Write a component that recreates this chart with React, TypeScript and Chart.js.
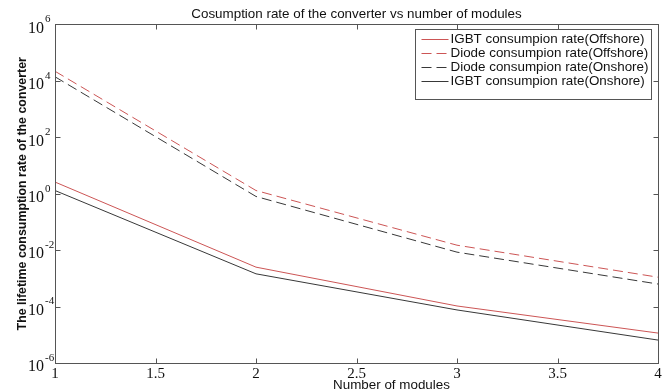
import React, { useEffect, useRef } from 'react';
import { Chart, registerables } from 'chart.js';

Chart.register(...registerables);

const modules = [1, 2, 3, 4];
const igbtOffshore = [2.6, 2.5e-3, 1.05e-4, 1.15e-5];
const diodeOffshore = [2.2e4, 1.3, 0.015, 1.1e-3];
const diodeOnshore = [1.4e4, 0.8, 0.0085, 6.3e-4];
const igbtOnshore = [1.3, 1.45e-3, 7.6e-5, 6.5e-6];

const seriesLabels = [
  'IGBT consumpion rate(Offshore)',
  'Diode consumpion rate(Offshore)',
  'Diode consumpion rate(Onshore)',
  'IGBT consumpion rate(Onshore)',
];
const xTicks = [1, 1.5, 2, 2.5, 3, 3.5, 4];
const yExponents = [-6, -4, -2, 0, 2, 4, 6];
const chartTitle = 'Cosumption rate of the converter vs number of modules';
const xTitle = 'Number of modules';
const yTitle = 'The lifetime consumption rate of the converter';

const RED = '#cc5555';
const DARK = '#383838';
const SANS = '"Liberation Sans", Arial, sans-serif';
const SERIF = '"Liberation Serif", "Times New Roman", serif';

const toPoints = (vals: number[]) => vals.map((v, i) => ({ x: modules[i], y: v }));

const framePlugin = {
  id: 'matlabFrame',
  afterDatasetsDraw(chart: any) {
    const { ctx, chartArea: a, scales } = chart;
    const xs = scales.x;
    const ys = scales.y;
    ctx.save();
    const L = Math.round(a.left) + 0.5;
    const R = Math.round(a.right) + 0.5;
    const T = Math.round(a.top) + 0.5;
    const B = Math.round(a.bottom) + 0.5;
    ctx.strokeStyle = '#555';
    ctx.lineWidth = 1;
    ctx.setLineDash([]);
    ctx.strokeRect(L, T, R - L, B - T);
    const tl = 5;
    ctx.beginPath();
    xTicks.forEach((v) => {
      const px = Math.round(xs.getPixelForValue(v)) + 0.5;
      ctx.moveTo(px, B);
      ctx.lineTo(px, B - tl);
      ctx.moveTo(px, T);
      ctx.lineTo(px, T + tl);
    });
    yExponents.forEach((e) => {
      const py = Math.round(ys.getPixelForValue(Math.pow(10, e))) + 0.5;
      ctx.moveTo(L, py);
      ctx.lineTo(L + tl, py);
      ctx.moveTo(R, py);
      ctx.lineTo(R - tl, py);
    });
    ctx.stroke();

    // y tick labels 10^e
    ctx.fillStyle = '#111';
    ctx.textBaseline = 'middle';
    ctx.textAlign = 'left';
    yExponents.forEach((e) => {
      const py = ys.getPixelForValue(Math.pow(10, e));
      ctx.font = `16px ${SERIF}`;
      ctx.fillText('10', 28, py + 4);
      const w = ctx.measureText('10').width;
      ctx.font = `11px ${SERIF}`;
      ctx.fillText(String(e), 28 + w + 1, py - 5);
    });

    // x axis title
    ctx.font = `13.4px ${SANS}`;
    ctx.textAlign = 'center';
    ctx.fillStyle = '#111';
    ctx.fillText(xTitle, (a.left + a.right) / 2 + 35, a.bottom + 22);

    // legend
    const ds = chart.data.datasets;
    const boxW = 236;
    const boxH = 70;
    const bx = Math.round(a.right) - 7 - boxW + 0.5;
    const by = Math.round(a.top) + 5 + 0.5;
    ctx.fillStyle = '#fff';
    ctx.fillRect(bx, by, boxW, boxH);
    ctx.strokeStyle = '#555';
    ctx.strokeRect(bx, by, boxW, boxH);
    ctx.font = `13.4px ${SANS}`;
    ctx.textAlign = 'left';
    ds.forEach((d: any, i: number) => {
      const ry = by + 9 + i * 14.2;
      ctx.strokeStyle = d.borderColor;
      ctx.lineWidth = 1;
      ctx.setLineDash(d.borderDash || []);
      ctx.beginPath();
      ctx.moveTo(bx + 6, Math.round(ry) + 0.5);
      ctx.lineTo(bx + 33, Math.round(ry) + 0.5);
      ctx.stroke();
      ctx.setLineDash([]);
      ctx.fillStyle = '#111';
      ctx.fillText(d.label, bx + 35, ry + 0.5);
    });
    ctx.restore();
  },
};

export default function App() {
  const ref = useRef<HTMLCanvasElement>(null);
  useEffect(() => {
    document.body.style.margin = '0';
    const canvas = ref.current!;
    const chart = new Chart(canvas, {
      type: 'line',
      data: {
        datasets: [
          { label: seriesLabels[0], data: toPoints(igbtOffshore), borderColor: RED, borderWidth: 1, borderDash: [], pointRadius: 0, tension: 0, fill: false },
          { label: seriesLabels[1], data: toPoints(diodeOffshore), borderColor: RED, borderWidth: 1, borderDash: [10, 5], pointRadius: 0, tension: 0, fill: false },
          { label: seriesLabels[2], data: toPoints(diodeOnshore), borderColor: DARK, borderWidth: 1, borderDash: [10, 5], pointRadius: 0, tension: 0, fill: false },
          { label: seriesLabels[3], data: toPoints(igbtOnshore), borderColor: DARK, borderWidth: 1, borderDash: [], pointRadius: 0, tension: 0, fill: false },
        ],
      },
      options: {
        animation: false,
        responsive: false,
        maintainAspectRatio: false,
        layout: { padding: { left: 0, right: 12, top: 0, bottom: 0 } },
        plugins: {
          legend: { display: false },
          tooltip: { enabled: false },
          title: {
            display: true,
            text: chartTitle,
            fullSize: false,
            color: '#111',
            font: { family: SANS, size: 13.4, weight: 'normal' },
            padding: { top: 6, bottom: 2.4 },
          },
        },
        scales: {
          x: {
            type: 'linear',
            min: 1,
            max: 4,
            grid: { display: false, drawTicks: false },
            border: { display: false },
            afterBuildTicks: (s: any) => {
              s.ticks = xTicks.map((v) => ({ value: v }));
            },
            afterFit: (s: any) => {
              s.height = 29;
              s.paddingLeft = 0;
              s.paddingRight = 0;
            },
            ticks: {
              autoSkip: false,
              maxRotation: 0,
              padding: 2,
              color: '#111',
              font: { family: SERIF, size: 15 },
              callback: (v: any) => String(v),
            },
            title: { display: false },
          },
          y: {
            type: 'logarithmic',
            min: 1e-6,
            max: 1e6,
            grid: { display: false, drawTicks: false },
            border: { display: false },
            afterBuildTicks: (s: any) => {
              s.ticks = yExponents.map((e) => ({ value: Math.pow(10, e) }));
            },
            afterFit: (s: any) => {
              s.width = 55;
            },
            ticks: { display: false },
            title: {
              display: true,
              text: yTitle,
              color: '#111',
              font: { family: SANS, size: 12.4, weight: 'bold' },
              padding: { top: 15, bottom: 0 },
            },
          },
        },
      },
      plugins: [framePlugin],
    } as any);
    return () => chart.destroy();
  }, []);
  return (
    <canvas ref={ref} width={670} height={392} style={{ display: 'block', width: 670, height: 392, background: '#fff' }} />
  );
}
